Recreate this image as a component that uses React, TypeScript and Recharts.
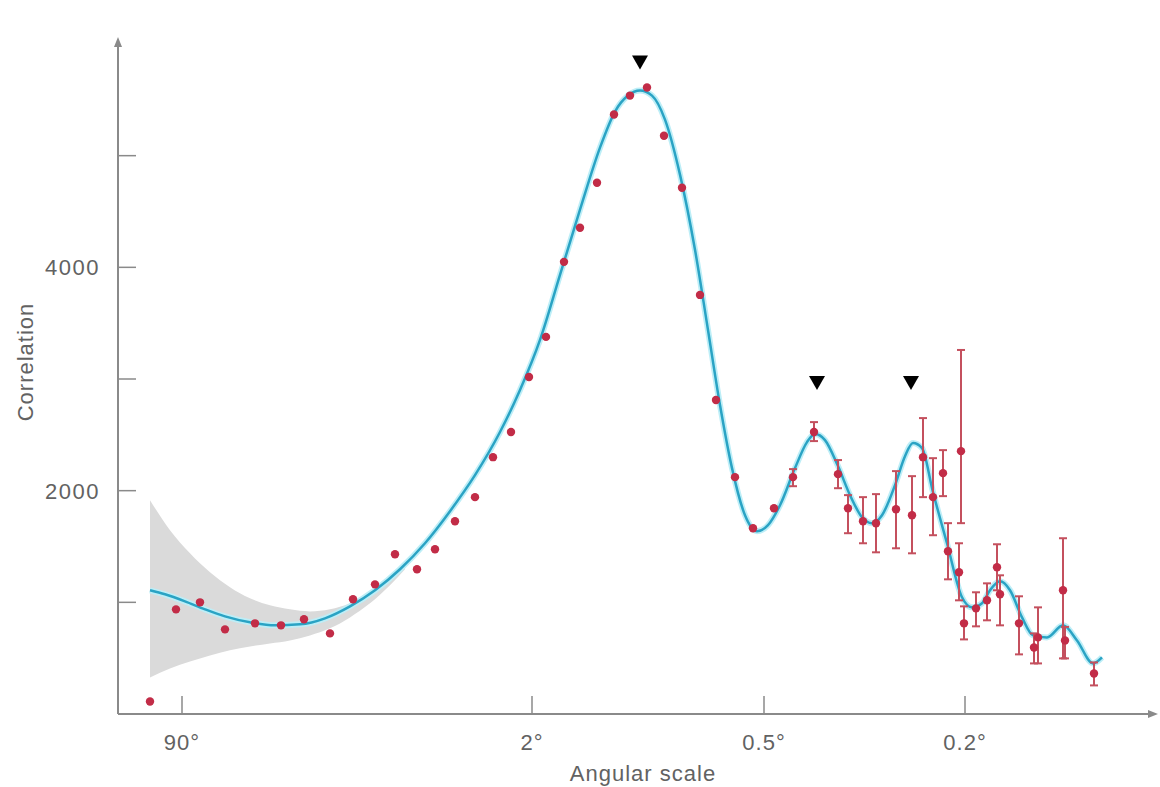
import React from "react";
import { ComposedChart, XAxis, YAxis, Area, Line, Scatter, ErrorBar, ReferenceDot } from "recharts";

// x is a position along the (non-linear) angular-scale axis, y is the correlation
const xTicks = [64, 414, 646, 847];
const xTickLabels = ["90°", "2°", "0.5°", "0.2°"];
const yTicks = [1000, 2000, 3000, 4000, 5000];
const yTickLabels = ["", "2000", "", "4000", ""];

// large-scale measurements (no error bars drawn)
const lowX = [32, 58, 82, 107, 137, 163, 186, 212, 235, 257, 277, 299, 317, 337, 357, 375, 393, 411, 428, 446, 462, 479, 496, 512, 529, 546, 564, 582, 598, 617, 635, 656];
const lowY = [112, 937, 1000, 758, 812, 794, 848, 722, 1027, 1161, 1430, 1296, 1475, 1726, 1942, 2300, 2525, 3018, 3377, 4049, 4354, 4758, 5368, 5538, 5610, 5179, 4713, 3753, 2812, 2121, 1664, 1843];

// small-scale measurements with error bars
const errX = [675, 696, 720, 730, 745, 758, 778, 794, 805, 815, 825, 830, 841, 843, 846, 858, 869, 879, 882, 901, 916, 920, 945, 947, 976];
const errY = [2121, 2525, 2148, 1843, 1726, 1708, 1834, 1780, 2300, 1942, 2157, 1457, 1269, 2354, 812, 946, 1018, 1314, 1072, 812, 596, 686, 1108, 659, 363];
const errLow = [2040, 2444, 2022, 1619, 1529, 1448, 1484, 1439, 1942, 1601, 1951, 1206, 1018, 1709, 668, 785, 839, 1108, 794, 534, 453, 453, 498, 498, 256];
const errHigh = [2193, 2614, 2274, 1960, 1942, 1969, 2175, 2130, 2650, 2291, 2363, 1709, 1529, 3260, 964, 1090, 1170, 1520, 1242, 1054, 722, 955, 1574, 780, 462];

// best-fit model curve
const curveX = [32, 47, 67, 87, 107, 132, 157, 182, 207, 232, 257, 282, 307, 332, 357, 382, 402, 422, 442, 462, 482, 497, 510, 522, 534, 547, 562, 577, 590, 602, 614, 627, 639, 650, 662, 677, 689, 697, 707, 720, 732, 744, 754, 764, 777, 787, 795, 804, 815, 829, 844, 854, 864, 872, 882, 892, 904, 915, 929, 945, 959, 975, 984];
const curveY = [1108, 1072, 1009, 937, 874, 821, 794, 803, 857, 964, 1108, 1296, 1529, 1816, 2139, 2525, 2901, 3350, 3933, 4516, 5072, 5395, 5538, 5583, 5538, 5323, 4830, 4157, 3439, 2767, 2202, 1780, 1637, 1691, 1870, 2202, 2435, 2507, 2453, 2220, 1960, 1762, 1709, 1780, 2049, 2309, 2426, 2381, 1987, 1529, 1045, 955, 991, 1108, 1188, 1108, 865, 704, 686, 794, 659, 453, 507];

// cosmic variance band
const bandX = [32, 52, 72, 92, 112, 132, 152, 172, 192, 212, 232, 252, 272, 287];
const bandLow = [327, 408, 471, 525, 570, 605, 632, 659, 704, 767, 865, 991, 1153, 1296];
const bandHigh = [1915, 1646, 1439, 1269, 1135, 1036, 973, 937, 919, 937, 991, 1090, 1233, 1359];

// acoustic peak markers
const peakX = [522, 699, 793];
const peakY = [5834, 2964, 2964];

const lowData = lowX.map((x, i) => ({ x, y: lowY[i] }));
const errData = errX.map((x, i) => ({ x, y: errY[i], err: [errY[i] - errLow[i], errHigh[i] - errY[i]] }));
const curveData = curveX.map((x, i) => ({ x, y: curveY[i] }));
const bandData = bandX.map((x, i) => ({ x, range: [bandLow[i], bandHigh[i]] }));
const peakData = peakX.map((x, i) => ({ x, y: peakY[i] }));

const axisColor = "#8a8a8a";
const textColor = "#626262";
const dotColor = "#c22c47";

const XTick = (props: any) => {
  const { x, y, payload } = props;
  const label = xTickLabels[xTicks.indexOf(payload.value)];
  return (
    <g>
      <line x1={x} y1={y} x2={x} y2={y - 18} stroke={axisColor} strokeWidth={1.5} />
      <text x={x} y={y + 36} textAnchor="middle" fontSize={22} letterSpacing={1} fill={textColor}>{label}</text>
    </g>
  );
};

const YTick = (props: any) => {
  const { x, y, payload } = props;
  const label = yTickLabels[yTicks.indexOf(payload.value)];
  return (
    <g>
      <line x1={x} y1={y} x2={x + 18} y2={y} stroke={axisColor} strokeWidth={1.5} />
      <text x={x - 18} y={y + 8} textAnchor="end" fontSize={22} letterSpacing={1.5} fill={textColor}>{label}</text>
    </g>
  );
};

const Dot = (props: any) => <circle cx={props.cx} cy={props.cy} r={4.2} fill={dotColor} />;

const PeakMark = (props: any) => {
  const { cx, cy } = props;
  return <path d={`M${cx - 8},${cy - 7} L${cx + 8},${cy - 7} L${cx},${cy + 7} Z`} fill="#000" />;
};

const ArrowUp = (props: any) => {
  const { cx, cy } = props;
  return <path d={`M${cx},${cy - 7} L${cx - 4},${cy + 3} L${cx + 4},${cy + 3} Z`} fill={axisColor} />;
};

const ArrowRight = (props: any) => {
  const { cx, cy } = props;
  return <path d={`M${cx + 8},${cy} L${cx - 2},${cy - 4} L${cx - 2},${cy + 4} Z`} fill={axisColor} />;
};

export default function App() {
  return (
    <div style={{ position: "absolute", left: 0, top: 0, background: "#fff", fontFamily: "'Liberation Sans', Arial, Helvetica, sans-serif" }}>
      <ComposedChart width={1160} height={787} margin={{ top: 44, right: 10, left: 0, bottom: 0 }}>
        <XAxis
          type="number"
          dataKey="x"
          domain={[0, 1032]}
          ticks={xTicks}
          tick={<XTick />}
          tickLine={false}
          tickSize={0}
          tickMargin={0}
          height={73}
          axisLine={{ stroke: axisColor, strokeWidth: 2 }}
          allowDataOverflow
          label={({ viewBox }: any) => (
            <text x={643} y={viewBox.y + 67} textAnchor="middle" fontSize={22} letterSpacing={1} fill={textColor}>Angular scale</text>
          )}
        />
        <YAxis
          type="number"
          dataKey="y"
          domain={[0, 6000]}
          ticks={yTicks}
          tick={<YTick />}
          tickLine={false}
          tickSize={0}
          tickMargin={0}
          width={118}
          axisLine={{ stroke: axisColor, strokeWidth: 2 }}
          allowDataOverflow
          label={() => (
            <text x={33} y={362} textAnchor="middle" fontSize={22} letterSpacing={1} fill={textColor} transform="rotate(-90 33 362)">Correlation</text>
          )}
        />
        <Area data={bandData} type="monotone" dataKey="range" fill="#dadada" fillOpacity={1} stroke="none" isAnimationActive={false} />
        <Line data={curveData} type="monotone" dataKey="y" stroke="#bdeef7" strokeWidth={6} dot={false} isAnimationActive={false} />
        <Line data={curveData} type="monotone" dataKey="y" stroke="#2aa3c4" strokeWidth={2.5} dot={false} isAnimationActive={false} />
        <Scatter data={errData} dataKey="y" shape={<Dot />} isAnimationActive={false}>
          <ErrorBar dataKey="err" direction="y" width={4} stroke="#c4505e" strokeWidth={2} />
        </Scatter>
        <Scatter data={lowData} dataKey="y" shape={<Dot />} isAnimationActive={false} />
        <Scatter data={peakData} dataKey="y" shape={<PeakMark />} isAnimationActive={false} />
        <ReferenceDot x={0} y={6000} ifOverflow="visible" shape={<ArrowUp />} />
        <ReferenceDot x={1032} y={0} ifOverflow="visible" shape={<ArrowRight />} />
      </ComposedChart>
    </div>
  );
}
